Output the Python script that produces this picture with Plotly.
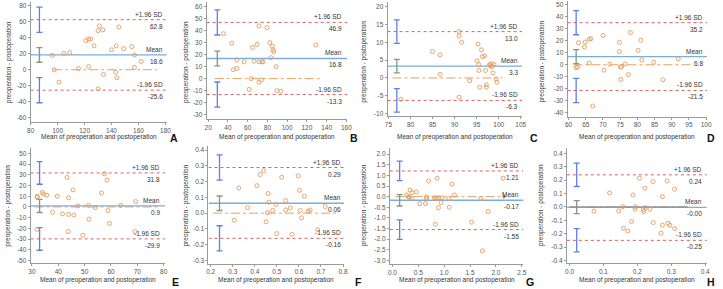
import plotly.graph_objects as go

W, H = 723, 289

# ---------------- data ----------------
panel_names = ["A", "B", "C", "D", "E", "F", "G", "H"]

a_x = [96, 97.5, 101, 104.5, 109, 115.5, 121, 123, 124.5, 123, 127, 130, 131, 133.5, 130, 134, 140, 143.5, 145.5, 143, 144, 149, 155, 157, 157, 162]
a_y = [18, 0, -15.5, 20.5, 21.5, 1.5, 36.5, 38.5, 38.5, 4, 30, 49, 55, 50, -24, -6, 25, 30, 53.5, -3, -10, 26.5, 29, 18.5, 3, 10.5]

b_x = [35.5, 44, 45.5, 49, 49, 56.5, 61.5, 63.5, 65, 66.5, 69.5, 71.5, 71.5, 71.5, 74.5, 75.7, 74, 79.5, 82.5, 83.5, 85, 85.5, 86.5, 89, 89.5, 93.5, 129]
b_y = [37.5, 29.5, 7.5, 8.5, 15.5, 14, -9, 0, 26, 14.5, 28.5, 44, 14, -3, 14, 14, -1, 42.5, 30, 17.5, 27, 24, 22.5, 10, -10, -10.5, 28]

c_x = [77.8, 85, 86.7, 86.7, 91, 91, 91.6, 91, 93.4, 95.3, 95.1, 95.5, 95.5, 95.7, 96.1, 96.3, 96.8, 97, 97.2, 97.2, 97.9, 98.1, 98.3, 98.5, 98.7, 98.9, 99.4, 99.6]
c_y = [-6, 7.4, 6.5, 1, 13, 11.8, 10, -5.4, -0.8, 9.5, 4.8, 3.7, 2.1, -2.6, 7.9, 6, 6.2, 2.1, -1.9, -2.6, 3.7, 3.4, 4, 3.2, 1.4, 3.8, -0.3, -1.2]

d_x = [62.2, 62.6, 62.9, 64.6, 64.8, 66, 66.5, 66, 67, 70, 70.3, 72, 74.8, 74.8, 75.1, 75.4, 75.2, 76.4, 77.4, 78, 80.2, 81, 81.3, 84.8, 87.4, 91.9]
d_y = [-2.5, -2, 18.5, 14.8, 19, 21.5, 21.8, 1.5, -34.5, 24.5, -4.5, 0.5, 18.7, 11, -1.8, -1.5, -12.3, 0.7, -8.2, 27, 12, 20.6, 4, 2.1, -12.5, 5]

e_x = [31.9, 32, 32, 33.9, 34.4, 35.6, 37.8, 39.6, 41.6, 43.3, 43.9, 43.9, 43.8, 45.6, 45.9, 47.4, 49.3, 51.4, 51.6, 54, 56.4, 57.5, 58.5, 58.9, 59.4, 63.7, 69.1, 69.4]
e_y = [-21, 10, 9, 13.5, 12, 11, -5, 10, -6.5, 27.5, 8.5, -7, -23, 16, -7.5, 1, -26.5, 1.5, -11.5, -0.5, 13, 31, 25, -3.5, -15.5, 1.5, -23, 5]

f_x = [0.307, 0.327, 0.367, 0.409, 0.424, 0.44, 0.451, 0.457, 0.461, 0.464, 0.481, 0.496, 0.499, 0.522, 0.54, 0.54, 0.561, 0.569, 0.597, 0.603, 0.606, 0.612, 0.625, 0.642, 0.651, 0.685, 0.719]
f_y = [-0.045, 0.16, 0.035, 0.175, 0.245, 0.27, -0.055, 0.003, 0.125, 0.07, 0.017, 0.055, -0.13, 0.228, 0.08, 0.02, 0.033, -0.135, 0.237, 0.145, 0.017, -0.03, 0.107, 0.012, 0.02, -0.105, 0.042]

g_x = [0.27, 0.31, 0.33, 0.34, 0.38, 0.37, 0.46, 0.53, 0.64, 0.66, 0.66, 0.70, 0.81, 0.85, 0.89, 0.83, 0.865, 0.89, 0.94, 0.96, 1.09, 1.10, 1.15, 1.20, 1.53, 1.71, 1.74, 1.85, 2.14]
g_y = [0.08, 0.0, -0.03, 0.31, 0.19, -0.08, 0.22, -0.33, -0.33, 0.0, -0.08, 0.73, -0.06, -0.06, -0.06, -1.3, 0.87, -0.52, -0.28, -0.05, -0.09, -0.5, 0.59, 0.08, -1.2, -0.08, -2.55, -0.7, 0.87]

h_x = [0.072, 0.118, 0.145, 0.157, 0.159, 0.172, 0.183, 0.187, 0.193, 0.194, 0.206, 0.217, 0.219, 0.222, 0.223, 0.237, 0.246, 0.247, 0.27, 0.274, 0.274, 0.288, 0.29, 0.296, 0.31, 0.31]
h_y = [-0.032, 0.105, -0.03, 0.002, -0.16, -0.18, -0.109, 0.09, -0.015, 0.002, 0.215, -0.02, -0.035, 0.14, -0.005, -0.017, 0.19, -0.117, -0.196, 0.077, -0.137, 0.194, -0.122, -0.137, -0.162, 0.132]

xs = [a_x, b_x, c_x, d_x, e_x, f_x, g_x, h_x]
ys = [a_y, b_y, c_y, d_y, e_y, f_y, g_y, h_y]

mean_vals = [18.6, 16.8, 3.3, 6.8, 0.9, 0.063, -0.17, -0.003]
upper_vals = [62.8, 46.9, 13.0, 35.2, 31.8, 0.29, 1.21, 0.24]
lower_vals = [-25.6, -13.3, -6.3, -21.5, -29.9, -0.16, -1.55, -0.25]
mean_text = ["18.6", "16.8", "3.3", "6.8", "0.9", "0.06", "-0.17", "-0.00"]
upper_text = ["62.8", "46.9", "13.0", "35.2", "31.8", "0.29", "1.21", "0.24"]
lower_text = ["-25.6", "-13.3", "-6.3", "-21.5", "-29.9", "-0.16", "-1.55", "-0.25"]

# 95% CI bars (low, high)
upper_ci_lo = [47.0, 36.4, 9.7, 25.1, 21.2, 0.21, 0.75, 0.153]
upper_ci_hi = [78.6, 57.4, 16.3, 45.3, 42.4, 0.37, 1.67, 0.327]
mean_ci_lo = [9.4, 10.7, 1.4, 1.0, -5.2, 0.017, -0.44, -0.05]
mean_ci_hi = [27.8, 22.9, 5.2, 12.6, 7.0, 0.109, 0.10, 0.047]
lower_ci_lo = [-41.4, -23.8, -9.6, -31.6, -40.5, -0.24, -2.01, -0.337]
lower_ci_hi = [-9.8, -2.8, -3.0, -11.4, -19.3, -0.08, -1.09, -0.163]

x_title = "Mean of preoperation and postoperation"
y_title = "preoperation - postoperation"

# ---------------- layout configuration ----------------
# calibration: (value1, pixel1, value2, pixel2), range
cfg = [
    dict(xc=(80, 27, 180, 163.5), xr=[80, 181], yc=(80, 6, -60, 118), yr=[-66, 85],
         xt=list(range(80, 181, 20)), yt=list(range(-60, 81, 20)), fmt="d",
         cix=86.5, zx=(96.7, 174), lx=180),
    dict(xc=(20, 206.7, 160, 346.7), xr=[18.5, 161], yc=(60, 6.7, -30, 115), yr=[-33.5, 64],
         xt=list(range(20, 161, 20)), yt=list(range(-30, 61, 10)), fmt="d",
         cix=29.3, zx=(26.7, 133), lx=157.5),
    dict(xc=(75, 389.3, 105, 523.3), xr=[74.8, 105.3], yc=(20, 6.7, -10, 114), yr=[-10.8, 21.3],
         xt=list(range(75, 106, 5)), yt=list(range(-10, 21, 5)), fmt="d",
         cix=76.9, zx=(75.9, 100.9), lx=104.9),
    dict(xc=(60, 571.7, 100, 711), xr=[59.7, 100.3], yc=(50, 5, -40, 113), yr=[-43.3, 53],
         xt=list(range(60, 101, 5)), yt=list(range(-40, 51, 10)), fmt="d",
         cix=62.2, zx=(61.4, 95.9), lx=99.8),
    dict(xc=(30, 28.3, 80, 161.7), xr=[29.5, 80.5], yc=(50, 154, -50, 261.3), yr=[-52.8, 55],
         xt=list(range(30, 81, 10)), yt=list(range(-50, 51, 10)), fmt="d",
         cix=32.9, zx=(31, 78), lx=79.5),
    dict(xc=(0.2, 209.3, 0.8, 343.3), xr=[0.19, 0.805], yc=(0.4, 150.7, -0.3, 261.3), yr=[-0.32, 0.425],
         xt=[0.2, 0.3, 0.4, 0.5, 0.6, 0.7, 0.8], yt=[-0.3, -0.2, -0.1, 0.0, 0.1, 0.2, 0.3, 0.4], fmt=".1f",
         cix=0.24, zx=(0.21, 0.77), lx=0.8),
    dict(xc=(0, 393.3, 2.5, 524.3), xr=[-0.05, 2.53], yc=(2.0, 154.7, -3.0, 261.3), yr=[-3.18, 2.3],
         xt=[0.0, 0.5, 1.0, 1.5, 2.0, 2.5], yt=[-3.0, -2.5, -2.0, -1.5, -1.0, -0.5, 0.0, 0.5, 1.0, 1.5, 2.0], fmt=".1f",
         cix=0.14, zx=(0.06, 2.16), lx=2.48),
    dict(xc=(0, 572.7, 0.4, 710), xr=[-0.008, 0.405], yc=(0.4, 154, -0.4, 261.3), yr=[-0.42, 0.44],
         xt=[0.0, 0.1, 0.2, 0.3, 0.4], yt=[-0.4, -0.3, -0.2, -0.1, 0.0, 0.1, 0.2, 0.3, 0.4], fmt=".1f",
         cix=0.021, zx=(0.0, 0.35), lx=0.396),
]

FONT = "Liberation Sans, Arial, sans-serif"
AX_COL = "#9a9a9a"
TICK_FONT = dict(family=FONT, size=6.5, color="#555555")
LAB_FONT = dict(family=FONT, size=6.5, color="#333333")
DOT_COL = "#E39A5C"
MEAN_COL = "#79AEE0"
SD_COL = "#D9605F"
ZERO_COL = "#E8A060"
CI_BLUE = "#5F7FE6"
CI_GREEN = "#7E9C7A"


def px(cal, v):
    v1, p1, v2, p2 = cal
    return p1 + (v - v1) * (p2 - p1) / (v2 - v1)


def fmt_tick(v, f):
    return str(int(v)) if f == "d" else f"{v:.1f}"


fig = go.Figure()
annotations = []

for i, c in enumerate(cfg):
    n = "" if i == 0 else str(i + 1)
    xref, yref = "x" + n, "y" + n
    x0p, x1p = px(c["xc"], c["xr"][0]), px(c["xc"], c["xr"][1])
    ybp, ytp = px(c["yc"], c["yr"][0]), px(c["yc"], c["yr"][1])
    fig.layout["xaxis" + n] = dict(
        domain=[x0p / W, x1p / W], range=c["xr"], anchor=yref,
        tickvals=c["xt"], ticktext=[fmt_tick(v, c["fmt"]) for v in c["xt"]],
        showline=True, linecolor=AX_COL, linewidth=1, ticks="outside", ticklen=2,
        tickcolor=AX_COL, tickfont=TICK_FONT, showgrid=False, zeroline=False, fixedrange=True)
    fig.layout["yaxis" + n] = dict(
        domain=[1 - ybp / H, 1 - ytp / H], range=c["yr"], anchor=xref,
        tickvals=c["yt"], ticktext=[fmt_tick(v, c["fmt"]) for v in c["yt"]],
        showline=True, linecolor=AX_COL, linewidth=1, ticks="outside", ticklen=2,
        tickcolor=AX_COL, tickfont=TICK_FONT, showgrid=False, zeroline=False, fixedrange=True)

    xr = c["xr"]
    # zero (equality) line
    zcol = "#8f8f8f" if i == 7 else ZERO_COL
    fig.add_trace(go.Scatter(x=list(c["zx"]), y=[0, 0], mode="lines",
                             line=dict(color=zcol, width=1, dash="dashdot"),
                             xaxis=xref, yaxis=yref, hoverinfo="skip"))
    # mean line
    fig.add_trace(go.Scatter(x=xr, y=[mean_vals[i]] * 2, mode="lines",
                             line=dict(color=MEAN_COL, width=1.3),
                             xaxis=xref, yaxis=yref, hoverinfo="skip"))
    if i == 7:
        fig.add_trace(go.Scatter(x=list(c["zx"]), y=[0, 0], mode="lines",
                                 line=dict(color=zcol, width=1),
                                 xaxis=xref, yaxis=yref, hoverinfo="skip"))
    # limits of agreement
    for v in (upper_vals[i], lower_vals[i]):
        fig.add_trace(go.Scatter(x=xr, y=[v, v], mode="lines",
                                 line=dict(color=SD_COL, width=1, dash="dot"),
                                 xaxis=xref, yaxis=yref, hoverinfo="skip"))
    # CI error bars
    for lo, hi, col in ((upper_ci_lo[i], upper_ci_hi[i], CI_BLUE),
                        (mean_ci_lo[i], mean_ci_hi[i], CI_GREEN),
                        (lower_ci_lo[i], lower_ci_hi[i], CI_BLUE)):
        mid = (lo + hi) / 2
        fig.add_trace(go.Scatter(x=[c["cix"]], y=[mid], mode="markers",
                                 marker=dict(size=1, color="rgba(0,0,0,0)"),
                                 error_y=dict(type="data", symmetric=False,
                                              array=[hi - mid], arrayminus=[mid - lo],
                                              color=col, thickness=1.3, width=3),
                                 xaxis=xref, yaxis=yref, hoverinfo="skip"))
    # points
    fig.add_trace(go.Scatter(x=xs[i], y=ys[i], mode="markers",
                             marker=dict(symbol="circle-open", size=4, color=DOT_COL,
                                         line=dict(width=0.9, color=DOT_COL)),
                             xaxis=xref, yaxis=yref, hoverinfo="skip"))
    if i == 6:
        fig.add_trace(go.Scatter(x=[c["zx"][1]], y=[0], mode="markers",
                                 marker=dict(symbol="triangle-right", size=4, color="#a08060"),
                                 xaxis=xref, yaxis=yref, hoverinfo="skip"))

    # right-side labels
    for val, top_txt, bot_txt in ((upper_vals[i], "+1.96 SD", upper_text[i]),
                                  (mean_vals[i], "Mean", mean_text[i]),
                                  (lower_vals[i], "-1.96 SD", lower_text[i])):
        annotations.append(dict(x=c["lx"], y=val, xref=xref, yref=yref, text=top_txt,
                                showarrow=False, xanchor="right", yanchor="bottom",
                                font=LAB_FONT, yshift=0))
        annotations.append(dict(x=c["lx"], y=val, xref=xref, yref=yref, text=bot_txt,
                                showarrow=False, xanchor="right", yanchor="top",
                                font=LAB_FONT, yshift=-1))

    # axis titles and panel letter
    row_off = 0 if i < 4 else 144
    xmid = (x0p + x1p) / 2
    annotations.append(dict(x=xmid / W, y=1 - (row_off + 137) / H, xref="paper", yref="paper",
                            text=x_title, showarrow=False, xanchor="center", yanchor="middle",
                            font=dict(family=FONT, size=6.5, color="#333333")))
    col_left = [0, 180, 360, 540][i % 4]
    annotations.append(dict(x=(col_left + 4.5) / W, y=1 - (row_off + 62) / H, xref="paper", yref="paper",
                            text=y_title, showarrow=False, textangle=-90, xanchor="center",
                            yanchor="middle", font=dict(family=FONT, size=6.5, color="#333333")))
    letter_x = [172, 354, 537, 716, 174, 359, 533, 716][i]
    annotations.append(dict(x=letter_x / W, y=1 - (row_off + 138.5) / H, xref="paper", yref="paper",
                            text="<b>" + panel_names[i] + "</b>", showarrow=False,
                            xanchor="center", yanchor="middle",
                            font=dict(family=FONT, size=10.5, color="#111111")))

fig.update_layout(width=W, height=H, margin=dict(l=0, r=0, t=0, b=0),
                  paper_bgcolor="white", plot_bgcolor="white", showlegend=False,
                  annotations=annotations)

fig.write_html("out.html", config={"displayModeBar": False})
